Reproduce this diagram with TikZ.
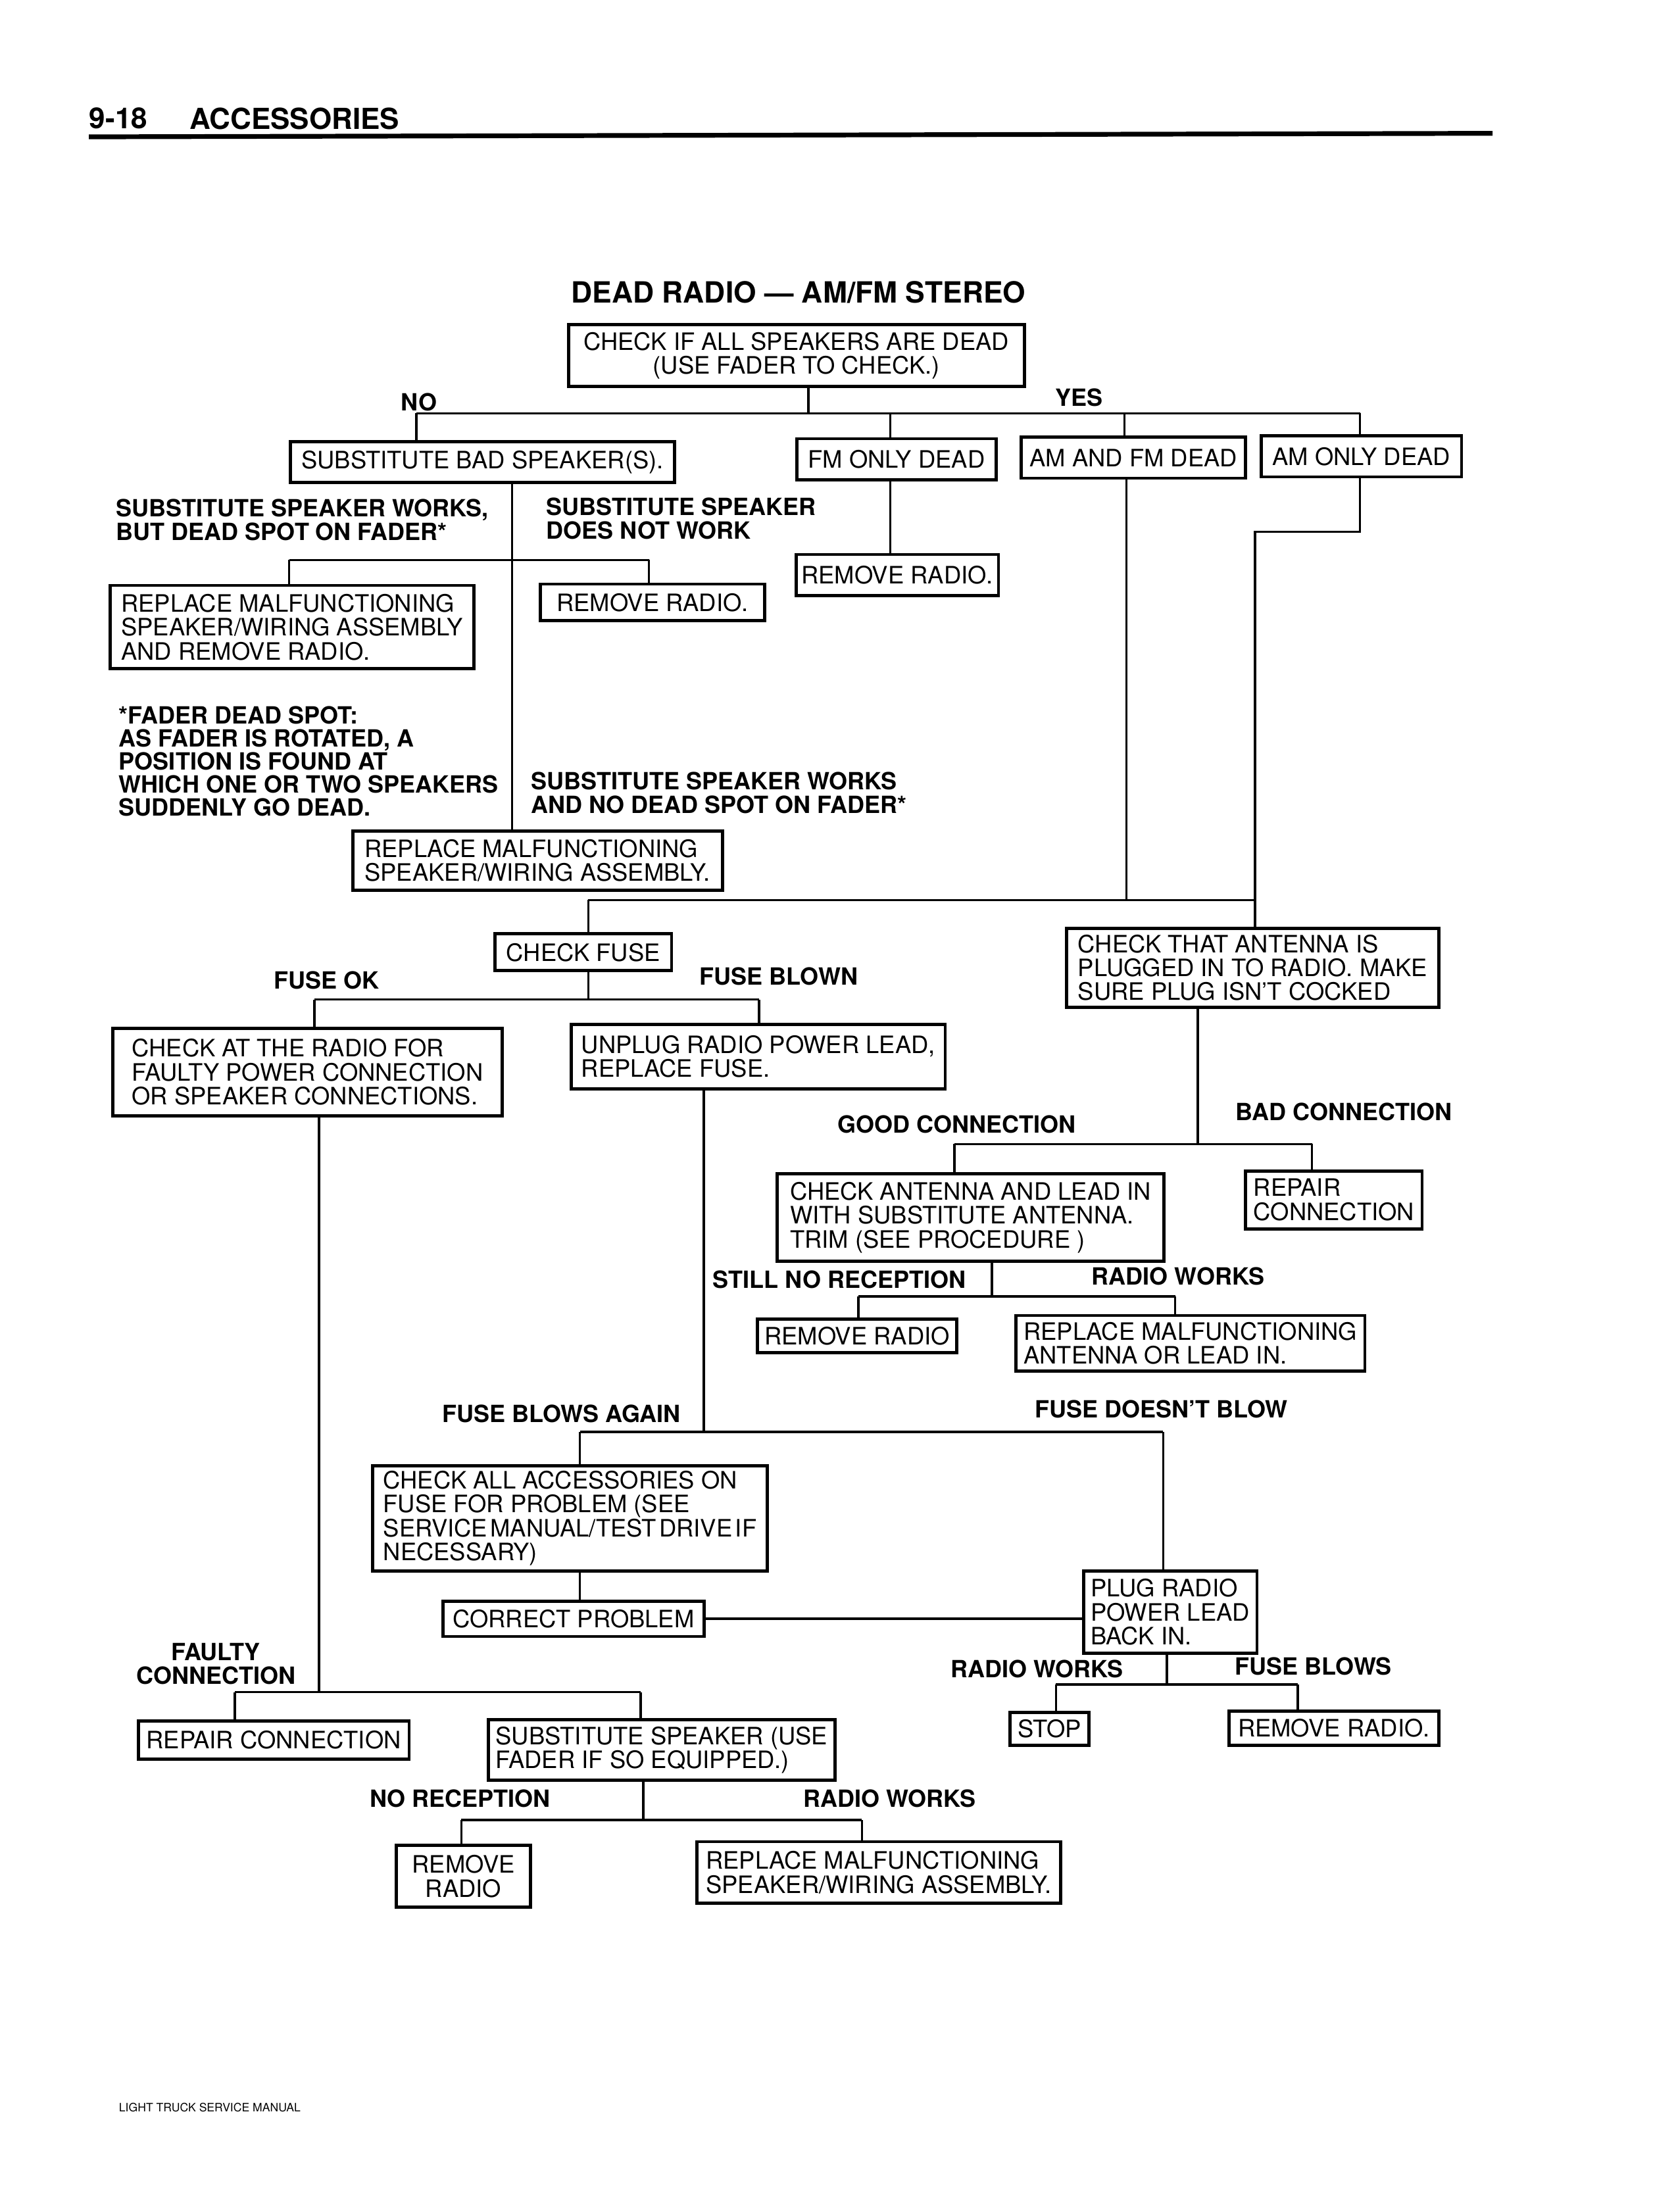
\documentclass[tikz,border=0pt]{standalone}
\usepackage{fontspec}
\setmainfont{TeX Gyre Heros}
\newcommand{\bx}[7]{%
  \pgfmathsetmacro{\bxw}{(#4-#2)*0.5362}%
  \pgfmathsetmacro{\bxh}{(#5-#3)*0.5362}%
  \node[flowbox, align=#6, minimum width=\bxw pt, minimum height=\bxh pt] (#1) at ({(#2+#4)/2},{(#3+#5)/2}) {#7};%
}
\tikzset{
  flowbox/.style={draw, line width=1.2pt, inner xsep=2pt, inner ysep=1pt, outer sep=0pt,
    font=\fontsize{9.1}{9.1}\selectfont},
  lbl/.style={font=\fontsize{9}{9.1}\selectfont\bfseries, inner sep=0pt, align=left},
  conn/.style={line width=0.9pt},
}
\begin{document}
\begin{tikzpicture}[x=0.5362pt, y=-0.5362pt]
\useasboundingbox (0,0) rectangle (1187.6,1568);
\fill[white] (0,0) rectangle (1187.6,1568);

% header
\node[anchor=west, inner sep=0pt, font=\fontsize{11}{11}\selectfont\bfseries] (hnum) at (63,84) {9-18};
\node[anchor=west, inner sep=0pt, font=\fontsize{11}{11}\selectfont\bfseries] (hacc) at (134,84) {ACCESSORIES};
\coordinate (rl) at (63,97);
\coordinate (rr) at (1058,94.5);
\draw[line width=1.8pt] (rl) -- (rr);

% title
\node[inner sep=0pt, font=\fontsize{11.1}{11.1}\selectfont\bfseries] (title) at (566,207) {DEAD RADIO — AM/FM STEREO};

% boxes
\bx{b1}{403}{230}{726}{274}{center}{CHECK IF ALL SPEAKERS ARE DEAD\\(USE FADER TO CHECK.)}
\bx{sbs}{206}{313}{478}{342}{left}{SUBSTITUTE BAD SPEAKER(S).}
\bx{fm}{565}{311}{706}{340}{left}{FM ONLY DEAD}
\bx{amfm}{724}{310}{883}{339}{left}{AM AND FM DEAD}
\bx{amonly}{894}{309}{1036}{338}{left}{AM ONLY DEAD}
\bx{repl1}{78}{415}{336}{474}{left}{REPLACE MALFUNCTIONING\\SPEAKER/WIRING ASSEMBLY\\AND REMOVE RADIO.}
\bx{rem1}{383}{414}{542}{440}{left}{REMOVE RADIO.}
\bx{remfm}{565}{393}{707}{422}{left}{REMOVE RADIO.}
\bx{repl2}{250}{589}{512}{631}{left}{REPLACE MALFUNCTIONING\\SPEAKER/WIRING ASSEMBLY.}
\bx{fuse}{351}{662}{476}{688}{left}{CHECK FUSE}
\bx{car}{80}{729}{356}{791}{left}{CHECK AT THE RADIO FOR\\FAULTY POWER CONNECTION\\OR SPEAKER CONNECTIONS.}
\bx{unpl}{405}{726}{670}{772}{left}{UNPLUG RADIO POWER LEAD,\\REPLACE FUSE.}
\bx{ant}{756}{658}{1020}{714}{left}{CHECK THAT ANTENNA IS\\PLUGGED IN TO RADIO. MAKE\\SURE PLUG ISN’T COCKED}
\bx{cal}{551}{832}{825}{894}{left}{CHECK ANTENNA AND LEAD IN\\WITH SUBSTITUTE ANTENNA.\\TRIM (SEE PROCEDURE\ )}
\bx{repc}{883}{830}{1008}{871}{left}{REPAIR\\CONNECTION}
\bx{rema}{537}{935}{678}{959}{left}{REMOVE RADIO}
\bx{rma}{720}{932.5}{967.5}{972}{left}{REPLACE MALFUNCTIONING\\ANTENNA OR LEAD IN.}
\bx{chk}{264}{1039}{544}{1113.5}{left}{CHECK ALL ACCESSORIES ON\\FUSE FOR PROBLEM (SEE\\{\spaceskip=0.12em\relax SERVICE MANUAL/TEST DRIVE IF}\\NECESSARY)}
\bx{corr}{314}{1135}{499}{1160}{left}{CORRECT PROBLEM}
\bx{plug}{768}{1113.5}{891}{1172}{left}{PLUG RADIO\\POWER LEAD\\BACK IN.}
\bx{stop}{716}{1214}{772}{1237}{left}{STOP}
\bx{remb}{871}{1213}{1020}{1237}{left}{REMOVE RADIO.}
\bx{repcon}{98}{1220}{290}{1247}{left}{REPAIR CONNECTION}
\bx{subsp}{346}{1219}{592}{1262}{left}{SUBSTITUTE SPEAKER (USE\\FADER IF SO EQUIPPED.)}
\bx{remr}{281}{1308}{376}{1352}{center}{REMOVE\\RADIO}
\bx{replsp}{494}{1305.5}{752}{1349}{left}{REPLACE MALFUNCTIONING\\SPEAKER/WIRING ASSEMBLY.}

% labels
\node[lbl] (lno) at (297,285) {NO};
\node[lbl] (lyes) at (765,282) {YES};
\node[lbl, anchor=west] (lsw) at (82,368.5) {SUBSTITUTE SPEAKER WORKS,\\BUT DEAD SPOT ON FADER*};
\node[lbl, anchor=west] (lsn) at (387,367.5) {SUBSTITUTE SPEAKER\\DOES NOT WORK};
\node[lbl, anchor=west, font=\fontsize{9}{8.75}\selectfont\bfseries] (lfn) at (84,539.5) {*FADER DEAD SPOT:\\AS FADER IS ROTATED, A\\POSITION IS FOUND AT\\WHICH ONE OR TWO SPEAKERS\\SUDDENLY GO DEAD.};
\node[lbl, anchor=west] (lnd) at (376,562) {SUBSTITUTE SPEAKER WORKS\\AND NO DEAD SPOT ON FADER*};
\node[lbl] (lfok) at (231.5,695) {FUSE OK};
\node[lbl] (lfbl) at (552,692) {FUSE BLOWN};
\node[lbl] (lgood) at (678,797) {GOOD CONNECTION};
\node[lbl] (lbad) at (952.5,788) {BAD CONNECTION};
\node[lbl, anchor=west] (lstill) at (505,907) {STILL NO RECEPTION};
\node[lbl] (lrw1) at (835,904.5) {RADIO WORKS};
\node[lbl] (lfba) at (398,1002) {FUSE BLOWS AGAIN};
\node[lbl] (lfdb) at (823,999) {FUSE DOESN’T BLOW};
\node[lbl] (lrw2) at (735,1183) {RADIO WORKS};
\node[lbl] (lfbs) at (931,1181) {FUSE BLOWS};
\node[lbl, align=center] (lfc) at (153,1179.5) {FAULTY\\CONNECTION};
\node[lbl] (lnr) at (326,1275) {NO RECEPTION};
\node[lbl] (lrw3) at (630.5,1275) {RADIO WORKS};

% footer
\node[anchor=west, inner sep=0pt, font=\fontsize{4.4}{4.4}\selectfont] (foot) at (84,1494) {LIGHT TRUCK SERVICE MANUAL};

% connectors: top
\coordinate (t0) at (573,293);
\coordinate (tL) at (295,293);
\coordinate (tFM) at (631,293);
\coordinate (tAF) at (797,293);
\coordinate (tR) at (964,293);
\draw[conn] (t0 |- b1.south) -- (t0);
\draw[conn] (tL) -- (tR);
\draw[conn] (tL) -- (tL |- sbs.north);
\draw[conn] (tFM) -- (tFM |- fm.north);
\draw[conn] (tAF) -- (tAF |- amfm.north);
\draw[conn] (tR) -- (tR |- amonly.north);

% substitute bad speaker branch
\coordinate (v1) at (363,397);
\coordinate (h1L) at (205,397);
\coordinate (h1R) at (460,397);
\draw[conn] (v1 |- sbs.south) -- (v1 |- repl2.north);
\draw[conn] (h1L) -- (h1R);
\draw[conn] (h1L) -- (h1L |- repl1.north);
\draw[conn] (h1R) -- (h1R |- rem1.north);

% FM only
\draw[conn] (tFM |- fm.south) -- (tFM |- remfm.north);

% AM and FM / AM only
\coordinate (jF) at (417,638);
\coordinate (jA) at (798.5,638);
\coordinate (jB) at (889.5,638);
\coordinate (ao1) at (964,377);
\coordinate (ao2) at (889.5,377);
\draw[conn] (jA |- amfm.south) -- (jA);
\draw[conn] (ao1 |- amonly.south) -- (ao1) -- (ao2) -- (ao2 |- ant.north);
\draw[conn] (jF) -- (jB);
\draw[conn] (jF) -- (jF |- fuse.north);

% fuse
\coordinate (f0) at (417,708.5);
\coordinate (fL) at (223,708.5);
\coordinate (fR) at (538,708.5);
\draw[conn] (f0 |- fuse.south) -- (f0);
\draw[conn] (fL) -- (fR);
\draw[conn] (fL) -- (fL |- car.north);
\draw[conn] (fR) -- (fR |- unpl.north);

% antenna
\coordinate (a0) at (849,811);
\coordinate (aL) at (676.5,811);
\coordinate (aR) at (930,811);
\draw[conn] (a0 |- ant.south) -- (a0);
\draw[conn] (aL) -- (aR);
\draw[conn] (aL) -- (aL |- cal.north);
\draw[conn] (aR) -- (aR |- repc.north);

\coordinate (c0) at (703,919);
\coordinate (cL) at (608.5,919);
\coordinate (cR) at (833,919);
\draw[conn] (c0 |- cal.south) -- (c0);
\draw[conn] (cL) -- (cR);
\draw[conn] (cL) -- (cL |- rema.north);
\draw[conn] (cR) -- (cR |- rma.north);

% unplug
\coordinate (u0) at (499,1015);
\coordinate (uL) at (411,1015);
\coordinate (uR) at (824.5,1015);
\draw[conn] (u0 |- unpl.south) -- (u0);
\draw[conn] (uL) -- (uR);
\draw[conn] (uL) -- (uL |- chk.north);
\draw[conn] (uR) -- (uR |- plug.north);
\draw[conn] (uL |- chk.south) -- (uL |- corr.north);
\draw[conn] (corr.east) -- (corr.east -| plug.west);

\coordinate (p0) at (827,1194);
\coordinate (pL) at (748.5,1194);
\coordinate (pR) at (920,1194);
\draw[conn] (p0 |- plug.south) -- (p0);
\draw[conn] (pL) -- (pR);
\draw[conn] (pL) -- (pL |- stop.north);
\draw[conn] (pR) -- (pR |- remb.north);

% faulty connection branch
\coordinate (k0) at (226,1199.5);
\coordinate (kL) at (166.5,1199.5);
\coordinate (kR) at (454,1199.5);
\draw[conn] (k0 |- car.south) -- (k0);
\draw[conn] (kL) -- (kR);
\draw[conn] (kL) -- (kL |- repcon.north);
\draw[conn] (kR) -- (kR |- subsp.north);

\coordinate (q0) at (456,1290);
\coordinate (qL) at (327,1290);
\coordinate (qR) at (611,1290);
\draw[conn] (q0 |- subsp.south) -- (q0);
\draw[conn] (qL) -- (qR);
\draw[conn] (qL) -- (qL |- remr.north);
\draw[conn] (qR) -- (qR |- replsp.north);
\end{tikzpicture}
\end{document}
